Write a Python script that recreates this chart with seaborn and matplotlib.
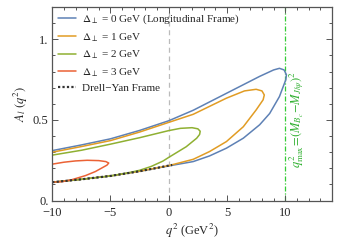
import matplotlib
matplotlib.use("Agg")
import matplotlib.pyplot as plt
from matplotlib.lines import Line2D
import seaborn as sns
import pandas as pd

# values (closed loops: upper branch left->tip, lower branch tip->left)
q2_d0 = [-10, -7.5, -5, -2.5, 0, 2.1, 4.95, 7.8, 9.0, 9.5, 9.9, 10.1,
         10.05, 9.5, 8.66, 7.8, 6.4, 4.95, 3.5, 2.1, 0, -2.5, -5, -7.5, -10]
al_d0 = [0.31, 0.345, 0.383, 0.435, 0.495, 0.56, 0.665, 0.77, 0.81, 0.82, 0.81, 0.78,
         0.75, 0.645, 0.54, 0.47, 0.387, 0.325, 0.277, 0.242, 0.215, 0.182, 0.153, 0.132, 0.114]

q2_d1 = [-10, -7.5, -5, -2.5, 0, 2.1, 4.95, 6.5, 7.5, 8.0, 8.2,
         8.1, 7.5, 6.4, 4.95, 3.5, 2.1, 0, -2.5, -5, -7.5, -10]
al_d1 = [0.30, 0.335, 0.372, 0.425, 0.485, 0.535, 0.635, 0.68, 0.69, 0.68, 0.655,
         0.625, 0.562, 0.458, 0.366, 0.304, 0.256, 0.217, 0.182, 0.153, 0.132, 0.114]

q2_d2 = [-10, -7.5, -5, -2.5, 0, 1, 2, 2.5, 2.7,
         2.65, 2.4, 1.5, 0.5, 0, -0.5, -1.5, -2.5, -3.5, -5, -7.5, -10]
al_d2 = [0.282, 0.312, 0.35, 0.39, 0.434, 0.448, 0.452, 0.445, 0.43,
         0.41, 0.387, 0.334, 0.29, 0.268, 0.245, 0.212, 0.188, 0.172, 0.153, 0.132, 0.114]

q2_d3 = [-10, -9, -8, -7, -6, -5.4, -5.15,
         -5.3, -5.8, -6.3, -7.15, -8.3, -9.1, -10]
al_d3 = [0.226, 0.238, 0.246, 0.25, 0.248, 0.242, 0.233,
         0.22, 0.2, 0.18, 0.155, 0.13, 0.118, 0.114]

q2_dy = [-10, -7.5, -5, -2.5, 0, 0.3]
al_dy = [0.114, 0.132, 0.153, 0.182, 0.217, 0.221]

q2_max = 10
x_ticks = [-10, -5, 0, 5, 10]
x_tick_labels = ["\u221210", "\u22125", "0", "5", "10"]
y_ticks = [0, 0.5, 1.0]
y_tick_labels = ["0.", "0.5", "1."]

labels = [r"$\Delta_\perp$ = 0 GeV (Longitudinal Frame)",
          r"$\Delta_\perp$ = 1 GeV",
          r"$\Delta_\perp$ = 2 GeV",
          r"$\Delta_\perp$ = 3 GeV",
          "Drell\u2212Yan Frame"]
colors = ["#5E81B5", "#E19C24", "#8FB032", "#EB6235"]

sns.set_style("ticks")
plt.rcParams["font.family"] = ["Liberation Serif", "DejaVu Serif"]
plt.rcParams["mathtext.fontset"] = "stix"

fig = plt.figure(figsize=(3.39, 2.42), dpi=100)
ax = fig.add_axes([0.154, 0.171, 0.825, 0.8])

curves = [(q2_d0, al_d0), (q2_d1, al_d1), (q2_d2, al_d2), (q2_d3, al_d3)]
for (xs, ys), c in zip(curves, colors):
    df = pd.DataFrame({"q2": xs, "Al": ys})
    sns.lineplot(data=df, x="q2", y="Al", sort=False, estimator=None,
                 color=c, lw=1.1, ax=ax)

sns.lineplot(x=q2_dy, y=al_dy, sort=False, estimator=None, color="#333333",
             lw=1.6, linestyle=(0, (1, 1)), ax=ax)

ax.axvline(0, color="#BBBBBB", lw=0.9, dashes=(4, 3), zorder=0)
ax.axvline(q2_max, color="#33CC33", lw=0.9, linestyle=(0, (4, 1.5, 1, 1.5)), zorder=0)
ax.text(10.95, 0.5, r"$q^2_{\rm max}\!=\!(M_{B_c}\!-\!M_{J/\psi})^2$",
        rotation=90, color="#2FB02F", fontsize=9, ha="center", va="center")

ax.set_xlim(-10, 14)
ax.set_ylim(0, 1.2)
ax.set_xticks(x_ticks)
ax.set_xticklabels(x_tick_labels)
ax.set_yticks(y_ticks)
ax.set_yticklabels(y_tick_labels)
ax.set_xticks(range(-10, 15), minor=True)
ax.set_yticks([i / 10 for i in range(0, 13)], minor=True)
ax.tick_params(which="both", direction="in", top=True, right=True,
               labelsize=9, color="#555555", width=0.7)
ax.tick_params(axis="x", pad=4.5)
ax.tick_params(axis="y", pad=2.5)
ax.tick_params(which="major", length=4)
ax.tick_params(which="minor", length=2.2)
for s in ax.spines.values():
    s.set_color("#555555")
    s.set_linewidth(0.9)

ax.set_xlabel(r"$q^2$ (GeV$^2$)", fontsize=9, labelpad=2)
ax.set_ylabel(r"$A_l\ (q^2)$", fontsize=9, labelpad=2)

handles = [Line2D([], [], color=c, lw=1.1) for c in colors]
handles.append(Line2D([], [], color="#333333", lw=1.6, linestyle=(0, (1, 1))))
ax.legend(handles, labels, loc="upper left", frameon=False, fontsize=8,
          handlelength=1.6, handletextpad=0.6, labelspacing=0.45,
          borderaxespad=0.2, borderpad=0.3)

fig.savefig("out.png", dpi=100)
